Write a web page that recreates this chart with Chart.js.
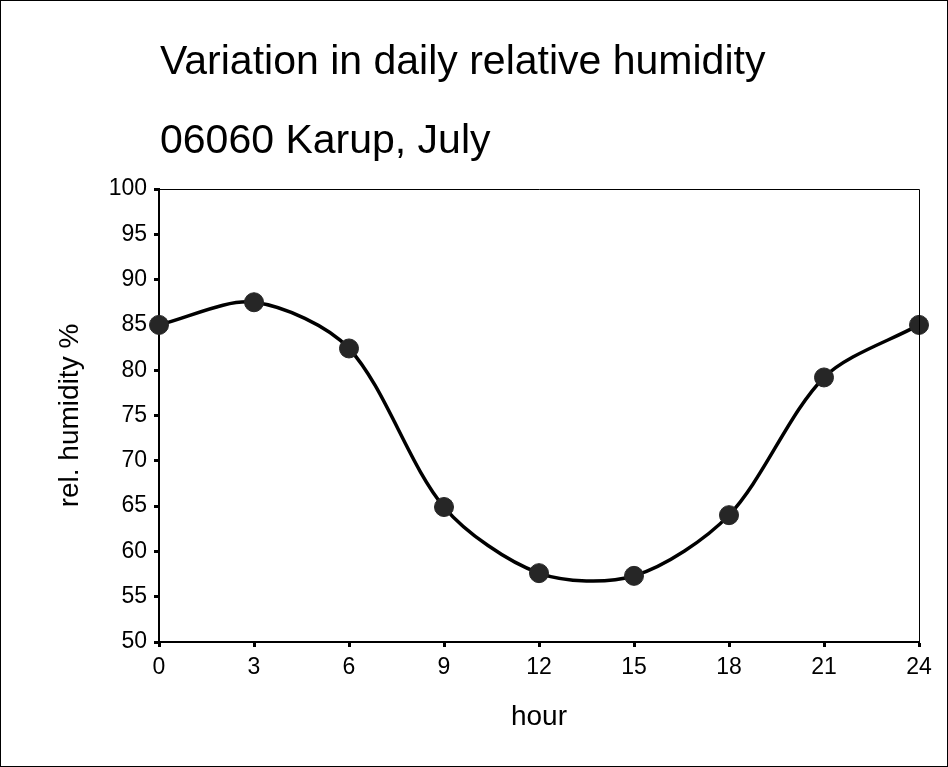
<!DOCTYPE html>
<html>
<head>
<meta charset="utf-8">
<script src="https://cdn.jsdelivr.net/npm/chart.js@4"></script>
<style>
  body { margin: 0; background: #fff; }
  #wrap { position: relative; width: 948px; height: 767px; }
  .ttl { position: absolute; left: 160px; font-family: Arial, "Liberation Sans", sans-serif; font-size: 41px; line-height: 41px; color: #000; white-space: nowrap; }
</style>
</head>
<body>
<div id="wrap">
  <canvas id="myChart" width="948" height="767"></canvas>
  <div class="ttl" id="t1" style="top:40px">Variation in daily relative humidity</div>
  <div class="ttl" id="t2" style="top:119px">06060 Karup, July</div>
</div>
<script>
const hours = [0, 3, 6, 9, 12, 15, 18, 21, 24];
const humidity = [85.0, 87.5, 82.4, 64.9, 57.6, 57.3, 64.0, 79.2, 85.0];

const font = 'Arial, "Liberation Sans", sans-serif';

// frame round the picture and round the plot area
const frames = {
    id: 'frames',
    afterDraw(chart) {
        const ctx = chart.ctx;
        const a = chart.chartArea;
        ctx.save();
        ctx.strokeStyle = '#000';
        ctx.lineWidth = 1;
        ctx.strokeRect(0.5, 0.5, chart.width - 1, chart.height - 1);
        ctx.beginPath();
        ctx.moveTo(a.left, a.top + 0.5);
        ctx.lineTo(a.right + 0.5, a.top + 0.5);
        ctx.lineTo(a.right + 0.5, a.bottom);
        ctx.stroke();
        ctx.restore();
    }
};

const data = {
    datasets: [{
        data: hours.map((h, i) => ({ x: h, y: humidity[i] })),
        borderColor: '#000',
        borderWidth: 3.5,
        tension: 0.3,
        pointRadius: 9.5,
        pointBackgroundColor: '#262626',
        pointBorderColor: '#262626',
        pointBorderWidth: 1,
        clip: false
    }]
};

const config = {
    type: 'line',
    data: data,
    options: {
        responsive: false,
        animation: false,
        layout: { padding: { left: 0, top: 189, right: 29, bottom: 0 } },
        plugins: { legend: { display: false }, tooltip: { enabled: false } },
        scales: {
            x: {
                type: 'linear',
                min: 0,
                max: 24,
                afterFit: s => { s.height = 125; },
                ticks: { stepSize: 3, color: '#000', padding: 7, maxRotation: 0, font: { family: font, size: 23 } },
                grid: { drawOnChartArea: false, tickLength: 5, tickWidth: 3, tickColor: '#000' },
                border: { color: '#000', width: 2 },
                title: { display: true, text: 'hour', color: '#000', font: { family: font, size: 28 }, padding: { top: 0, bottom: 33 } }
            },
            y: {
                min: 50,
                max: 100,
                afterFit: s => { s.width = 159; },
                ticks: { stepSize: 5, color: '#000', padding: 7, font: { family: font, size: 23 } },
                grid: { drawOnChartArea: false, tickLength: 5, tickWidth: 3, tickColor: '#000' },
                border: { color: '#000', width: 2 },
                title: { display: true, text: 'rel. humidity %', color: '#000', font: { family: font, size: 28 }, padding: { top: 53, bottom: 0 } }
            }
        }
    },
    plugins: [frames]
};

const myChart = new Chart(document.getElementById('myChart'), config);
</script>
</body>
</html>
